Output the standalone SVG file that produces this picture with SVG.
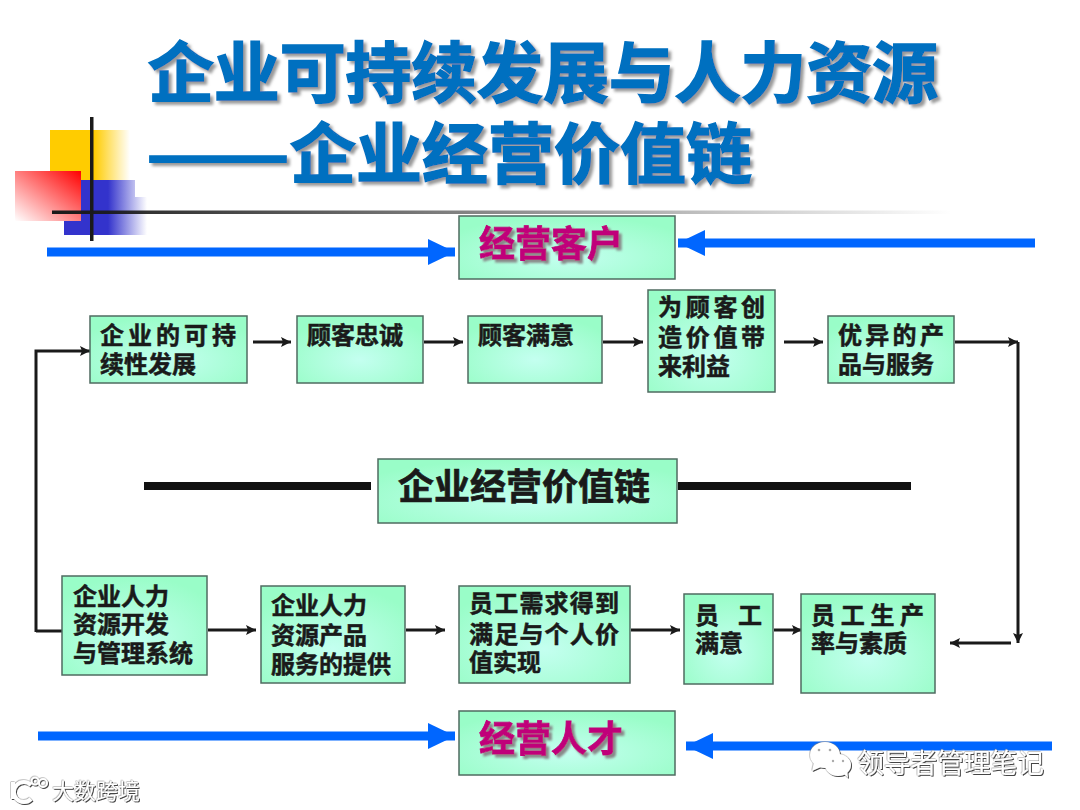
<svg xmlns="http://www.w3.org/2000/svg" width="1080" height="810" viewBox="0 0 1080 810">
<style>
text{font-family:"Noto Sans CJK SC","Liberation Sans",sans-serif;font-weight:700}
.title{font-size:66px;fill:#0070c0;stroke:#0070c0;stroke-width:1.6px;filter:url(#ts)}
.box{fill:url(#g);stroke:#4f6b60;stroke-width:1.5}
.t{font-size:24px;fill:#1a1a1a;stroke:#1a1a1a;stroke-width:.5px}
.m{font-size:36px;fill:#c0007a;stroke:#c0007a;stroke-width:.8px;filter:url(#ms)}
.c{font-size:36px;fill:#1a1a1a;stroke:#1a1a1a;stroke-width:.7px}
.l{stroke:#1a1a1a;stroke-width:3;fill:none}
.lm{stroke:#1a1a1a;stroke-width:3;fill:none;marker-end:url(#a)}
.b{stroke:#0066ff;stroke-width:9;fill:none;marker-end:url(#ba)}
.k{stroke:#111;stroke-width:8}
.wm{fill:#fff;font-weight:400;filter:url(#ws)}
</style>
<defs>
<radialGradient id="g" cx="50%" cy="65%" r="65%"><stop offset="0" stop-color="#c4fff0"/><stop offset="1" stop-color="#99fdc8"/></radialGradient>
<linearGradient id="yg" gradientUnits="userSpaceOnUse" x1="50" y1="0" x2="130" y2="0"><stop offset="0" stop-color="#ffcc00"/><stop offset=".55" stop-color="#ffcc00"/><stop offset="1" stop-color="#ffcc00" stop-opacity="0"/></linearGradient>
<linearGradient id="bg" gradientUnits="userSpaceOnUse" x1="64" y1="0" x2="147" y2="0"><stop offset="0" stop-color="#3333cc"/><stop offset=".53" stop-color="#3333cc"/><stop offset="1" stop-color="#3333cc" stop-opacity="0"/></linearGradient>
<linearGradient id="rg" x1="1" y1="0" x2="0" y2="1"><stop offset="0" stop-color="#ff0000"/><stop offset="1" stop-color="#ffffff"/></linearGradient>
<linearGradient id="lg"><stop offset="0" stop-color="#1a1a1a"/><stop offset="1" stop-color="#1a1a1a" stop-opacity="0"/></linearGradient>
<filter id="ts" x="-5%" y="-20%" width="110%" height="140%"><feDropShadow dx="3" dy="3" stdDeviation="1.5" flood-color="#999"/></filter>
<filter id="ms" x="-10%" y="-20%" width="120%" height="140%"><feDropShadow dx="3" dy="3" stdDeviation="1.2" flood-color="#888"/></filter>
<filter id="ws" x="-10%" y="-20%" width="120%" height="140%"><feDropShadow dx="1" dy="1" stdDeviation=".5" flood-color="#444"/><feDropShadow dx="-.4" dy="-.4" stdDeviation=".5" flood-color="#777"/></filter>
<marker id="a" markerUnits="userSpaceOnUse" markerWidth="12" markerHeight="12" refX="10" refY="6" orient="auto"><path d="M0 1L10 6L0 11L2 6Z" fill="#1a1a1a"/></marker>
<marker id="ba" markerUnits="userSpaceOnUse" markerWidth="28" markerHeight="28" refX="27" refY="14" orient="auto"><path d="M0 1L27 14L0 27Z" fill="#0066ff"/></marker>
</defs>
<rect width="1080" height="810" fill="#fff"/>
<g id="decor">
<rect x="50" y="130" width="80" height="50" fill="url(#yg)"/>
<path d="M64 180H135V197H147V235H64Z" fill="url(#bg)"/>
<rect x="15" y="171" width="66" height="50" fill="url(#rg)"/>
<rect x="90" y="117" width="3.5" height="124" fill="#1a1a1a"/>
<rect x="52" y="210.500" width="900" height="3.500" fill="url(#lg)"/>
</g>
<g id="title">
<text class="title" x="148" y="97" textLength="790">企业可持续发展与人力资源</text>
<text class="title" x="146" y="178" textLength="144" lengthAdjust="spacingAndGlyphs">——</text>
<text class="title" x="290" y="178" textLength="462">企业经营价值链</text>
</g>
<g id="connectors">
<path class="b" d="M47 252H455"/>
<path class="b" d="M1035 243H678"/>
<path class="b" d="M38 736H455"/>
<path class="b" d="M1052 746H686"/>
<path class="k" d="M144 486H371M678 486H911"/>
<path class="lm" d="M253 342H291"/>
<path class="lm" d="M424 342H463"/>
<path class="lm" d="M603 342H643"/>
<path class="lm" d="M784 342H823"/>
<path class="lm" d="M955 342H1018"/>
<path class="lm" d="M1018 342V643"/>
<path class="lm" d="M1011 643H950"/>
<path class="lm" d="M36 632V351H90"/>
<path class="l" d="M36 631H62"/>
<path class="lm" d="M208 630H256"/>
<path class="lm" d="M406 630H445"/>
<path class="lm" d="M631 630H680"/>
<path class="lm" d="M774 630H802"/>
</g>
<g id="n-customer"><rect class="box" x="459" y="216" width="216" height="63"/><text class="m" x="479" y="257">经营客户</text></g>
<g id="n-sustain"><rect class="box" x="90" y="316" width="157" height="67"/><text class="t"><tspan x="100" y="344" letter-spacing="4">企业的可持</tspan><tspan x="100" y="373">续性发展</tspan></text></g>
<g id="n-loyal"><rect class="box" x="297" y="316" width="126" height="67"/><text class="t" x="307" y="344">顾客忠诚</text></g>
<g id="n-satisfied"><rect class="box" x="468" y="316" width="134" height="67"/><text class="t" x="478" y="344">顾客满意</text></g>
<g id="n-value"><rect class="box" x="648" y="290" width="127" height="102"/><text class="t"><tspan x="658" y="316" letter-spacing="3.700">为顾客创</tspan><tspan x="658" y="346" letter-spacing="3.700">造价值带</tspan><tspan x="658" y="375">来利益</tspan></text></g>
<g id="n-service"><rect class="box" x="828" y="316" width="126" height="67"/><text class="t"><tspan x="838" y="344" letter-spacing="3.300">优异的产</tspan><tspan x="838" y="373">品与服务</tspan></text></g>
<g id="n-chain"><rect class="box" x="378" y="459" width="299" height="64"/><text class="c" x="398" y="500">企业经营价值链</text></g>
<g id="n-hr"><rect class="box" x="62" y="576" width="145" height="99"/><text class="t"><tspan x="73" y="605">企业人力</tspan><tspan x="73" y="633">资源开发</tspan><tspan x="73" y="662">与管理系统</tspan></text></g>
<g id="n-product"><rect class="box" x="261" y="586" width="144" height="97"/><text class="t"><tspan x="271" y="614">企业人力</tspan><tspan x="271" y="644">资源产品</tspan><tspan x="271" y="673">服务的提供</tspan></text></g>
<g id="n-needs"><rect class="box" x="459" y="586" width="171" height="97"/><text class="t"><tspan x="469" y="612" letter-spacing="1.200">员工需求得到</tspan><tspan x="469" y="643" letter-spacing="1.200">满足与个人价</tspan><tspan x="469" y="671">值实现</tspan></text></g>
<g id="n-emp"><rect class="box" x="684" y="594" width="89" height="90"/><text class="t"><tspan x="695" y="624">员</tspan><tspan x="738" y="624">工</tspan><tspan x="695" y="652">满意</tspan></text></g>
<g id="n-prod"><rect class="box" x="801" y="594" width="134" height="99"/><text class="t"><tspan x="811" y="624" letter-spacing="5.700">员工生产</tspan><tspan x="811" y="652">率与素质</tspan></text></g>
<g id="n-talent"><rect class="box" x="459" y="711" width="216" height="64"/><text class="m" x="479" y="752">经营人才</text></g>
<g id="watermarks">
<g filter="url(#ws)" fill="#fff">
<ellipse cx="825" cy="755" rx="15" ry="13"/><path d="M814 762L812 771L823 766Z"/>
<ellipse cx="838" cy="765" rx="13" ry="11"/><path d="M843 773L848 778L847 770Z"/>
</g>
<g fill="#aaa"><circle cx="819" cy="750" r="1.300"/><circle cx="830" cy="750" r="1.300"/><circle cx="833" cy="761" r="1.200"/><circle cx="843" cy="761" r="1.200"/></g>
<text class="wm" x="857" y="773" font-size="27" textLength="187">领导者管理笔记</text>
<g filter="url(#ws)" fill="none" stroke="#fff">
<path d="M13 782V799" stroke-width="4"/><path d="M31 785A10 10 0 1 0 31 799" stroke-width="4"/>
<circle cx="35" cy="781" r="3.500" stroke-width="2"/><circle cx="43" cy="783" r="4" stroke-width="2"/>
</g>
<text class="wm" x="52" y="799" font-size="22" textLength="88">大数跨境</text>
</g>
</svg>
